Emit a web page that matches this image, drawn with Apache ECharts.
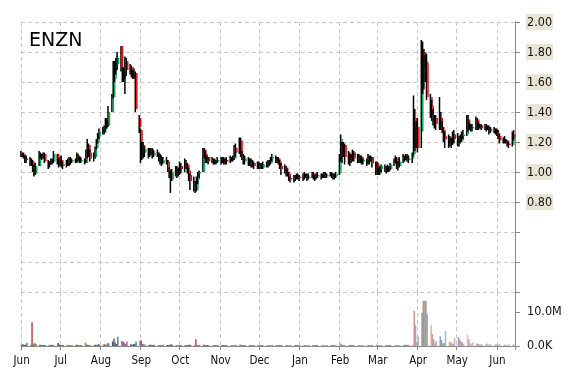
<!DOCTYPE html>
<html><head><meta charset="utf-8">
<script src="https://cdn.jsdelivr.net/npm/echarts@6/dist/echarts.min.js"></script>
<style>html,body{margin:0;padding:0;background:#fff}#c{width:570px;height:370px}</style>
</head><body><div id="c"></div>
<script>
const ticker = 'ENZN';
const startDate = [2015, 5, 1];   // Jun 1 2015
const endDate = [2016, 5, 14];    // Jun 14 2016
const monthNames = ['Jan','Feb','Mar','Apr','May','Jun','Jul','Aug','Sep','Oct','Nov','Dec'];
const priceMin = 0.2, priceMax = 2.0, priceStep = 0.2, priceLabelFrom = 0.8;
const volumeMax = 15.88, volumeStep = 10; // millions
const volumeTickLabels = {0: '0.0K', 10: '10.0M'};

// daily candles per month, trading days in order: [open, close, low, high]
const jun15 = [[1.12,1.11,1.10,1.14],[1.11,1.12,1.10,1.13],[1.12,1.10,1.09,1.13],[1.10,1.08,1.06,1.11],[1.08,1.09,1.06,1.11],[1.09,1.06,1.04,1.10],[1.06,1.07,1.04,1.09],[1.07,1.03,1.00,1.08],[1.03,0.99,0.97,1.05],[0.99,1.04,0.98,1.06],[1.04,1.12,1.04,1.14],[1.12,1.11,1.09,1.13],[1.11,1.10,1.08,1.12],[1.10,1.12,1.09,1.13],[1.12,1.07,1.06,1.13],[1.07,1.05,1.02,1.08],[1.05,1.06,1.03,1.07],[1.06,1.08,1.05,1.09],[1.08,1.07,1.05,1.09],[1.07,1.12,1.06,1.14],[1.12,1.08,1.05,1.12],[1.08,1.06,1.03,1.09]];
const jul15 = [[1.06,1.08,1.04,1.10],[1.08,1.05,1.03,1.11],[1.05,1.04,1.02,1.07],[1.04,1.07,1.03,1.08],[1.07,1.05,1.04,1.09],[1.05,1.08,1.04,1.10],[1.08,1.07,1.05,1.10],[1.07,1.08,1.06,1.09],[1.08,1.07,1.06,1.09],[1.07,1.11,1.06,1.13],[1.11,1.09,1.07,1.12],[1.09,1.07,1.06,1.10],[1.07,1.08,1.06,1.10],[1.08,1.06,1.05,1.09],[1.06,1.10,1.06,1.15],[1.10,1.18,1.09,1.22],[1.18,1.13,1.10,1.19],[1.13,1.09,1.07,1.15],[1.09,1.10,1.07,1.13],[1.10,1.16,1.09,1.17],[1.16,1.20,1.15,1.22],[1.20,1.24,1.19,1.26],[1.24,1.27,1.22,1.29]];
const aug15 = [[1.28,1.26,1.25,1.30],[1.26,1.29,1.25,1.31],[1.29,1.33,1.27,1.36],[1.33,1.31,1.29,1.36],[1.31,1.40,1.30,1.44],[1.40,1.50,1.40,1.52],[1.50,1.62,1.49,1.74],[1.62,1.70,1.60,1.74],[1.70,1.72,1.65,1.76],[1.72,1.76,1.68,1.80],[1.84,1.69,1.67,1.84],[1.69,1.62,1.60,1.70],[1.62,1.66,1.60,1.70],[1.66,1.74,1.52,1.77],[1.74,1.68,1.64,1.76],[1.68,1.70,1.65,1.72],[1.70,1.66,1.63,1.71],[1.66,1.64,1.62,1.68],[1.64,1.66,1.62,1.69],[1.66,1.42,1.40,1.67],[1.36,1.30,1.26,1.38]];
const sep15 = [[1.28,1.10,1.06,1.29],[1.10,1.18,1.08,1.20],[1.18,1.13,1.09,1.20],[1.13,1.15,1.10,1.17],[1.15,1.12,1.09,1.16],[1.12,1.13,1.10,1.16],[1.13,1.14,1.11,1.16],[1.14,1.11,1.09,1.16],[1.11,1.13,1.10,1.15],[1.13,1.12,1.10,1.15],[1.12,1.09,1.07,1.13],[1.09,1.10,1.05,1.12],[1.10,1.06,1.04,1.11],[1.06,1.08,1.05,1.10],[1.08,1.07,1.05,1.10],[1.07,1.02,1.00,1.08],[1.02,0.99,0.96,1.03],[0.99,0.95,0.86,1.01],[0.95,1.00,0.94,1.02],[1.00,1.02,0.97,1.04],[1.02,0.99,0.96,1.04],[0.99,1.01,0.97,1.03]];
const oct15 = [[1.01,1.04,0.98,1.07],[1.04,1.02,0.99,1.06],[1.02,1.06,1.00,1.09],[1.06,1.05,1.02,1.08],[1.05,1.01,0.99,1.06],[1.01,0.98,0.94,1.03],[0.98,0.94,0.88,0.99],[0.94,0.92,0.87,0.97],[0.92,0.88,0.86,0.94],[0.88,0.95,0.87,0.97],[0.95,0.99,0.92,1.00],[0.99,1.00,0.96,1.01],[1.00,1.15,1.00,1.16],[1.15,1.12,1.09,1.16],[1.12,1.08,1.06,1.14],[1.08,1.10,1.06,1.11],[1.10,1.07,1.05,1.10],[1.07,1.08,1.06,1.10],[1.08,1.07,1.05,1.09],[1.07,1.06,1.05,1.09],[1.06,1.07,1.05,1.08],[1.07,1.08,1.06,1.10]];
const nov15 = [[1.08,1.07,1.05,1.10],[1.07,1.09,1.06,1.10],[1.09,1.06,1.05,1.10],[1.06,1.08,1.05,1.09],[1.08,1.07,1.05,1.10],[1.07,1.09,1.06,1.11],[1.09,1.08,1.07,1.10],[1.08,1.09,1.07,1.11],[1.09,1.16,1.08,1.18],[1.16,1.13,1.10,1.19],[1.13,1.21,1.12,1.23],[1.21,1.12,1.10,1.23],[1.12,1.10,1.08,1.14],[1.10,1.07,1.05,1.12],[1.07,1.09,1.05,1.11],[1.09,1.06,1.04,1.10],[1.06,1.08,1.04,1.09],[1.08,1.05,1.03,1.09],[1.05,1.06,1.03,1.08],[1.06,1.04,1.02,1.07],[1.04,1.05,1.02,1.07]];
const dec15 = [[1.05,1.04,1.02,1.07],[1.04,1.05,1.02,1.06],[1.05,1.03,1.02,1.06],[1.03,1.05,1.02,1.07],[1.05,1.04,1.03,1.07],[1.04,1.07,1.03,1.08],[1.07,1.06,1.04,1.08],[1.06,1.09,1.05,1.10],[1.09,1.10,1.07,1.12],[1.10,1.08,1.06,1.11],[1.08,1.09,1.06,1.10],[1.09,1.07,1.05,1.10],[1.07,1.04,1.02,1.08],[1.04,1.02,0.98,1.06],[1.02,1.03,0.99,1.05],[1.03,1.00,0.97,1.04],[1.00,0.99,0.97,1.02],[0.99,0.96,0.94,1.00],[0.96,0.95,0.93,0.97],[0.95,0.97,0.93,0.98],[0.97,0.96,0.94,0.98],[0.96,0.98,0.95,0.99],[0.98,0.97,0.95,0.99]];
const jan16 = [[0.97,0.96,0.94,0.98],[0.96,0.98,0.94,0.99],[0.98,0.97,0.95,1.00],[0.97,0.98,0.96,0.99],[0.98,0.96,0.94,0.99],[0.96,0.97,0.95,0.99],[0.97,0.99,0.96,1.00],[0.99,0.97,0.95,1.00],[0.97,0.96,0.94,0.98],[0.96,0.97,0.95,0.99],[0.97,0.98,0.96,1.00],[0.98,0.97,0.95,0.99],[0.97,0.98,0.96,0.99],[0.98,0.99,0.96,1.00],[0.99,0.97,0.96,1.00],[0.97,0.98,0.96,0.99],[0.98,0.99,0.97,1.00],[0.99,0.98,0.96,1.00],[0.98,0.96,0.95,0.99],[0.96,0.97,0.95,0.99],[0.97,0.99,0.96,1.00]];
const feb16 = [[0.99,1.10,0.98,1.12],[1.10,1.22,1.07,1.25],[1.18,1.13,1.06,1.20],[1.13,1.18,1.10,1.20],[1.18,1.10,1.05,1.19],[1.10,1.12,1.05,1.14],[1.12,1.08,1.04,1.13],[1.08,1.10,1.06,1.12],[1.10,1.13,1.07,1.15],[1.13,1.09,1.07,1.14],[1.09,1.11,1.06,1.12],[1.11,1.08,1.06,1.12],[1.08,1.10,1.06,1.11],[1.10,1.07,1.05,1.11],[1.07,1.08,1.05,1.09],[1.08,1.06,1.04,1.09],[1.06,1.09,1.05,1.12],[1.09,1.08,1.05,1.11],[1.08,1.10,1.07,1.11],[1.10,1.06,1.03,1.10],[1.06,1.00,0.98,1.07]];
const mar16 = [[1.06,1.01,0.98,1.07],[1.01,0.99,0.98,1.03],[0.99,1.02,0.98,1.04],[1.02,1.04,1.00,1.05],[1.04,1.02,1.00,1.05],[1.02,1.01,0.99,1.04],[1.01,1.03,1.00,1.05],[1.03,1.02,1.00,1.04],[1.02,1.05,1.01,1.06],[1.05,1.07,1.04,1.09],[1.07,1.09,1.06,1.11],[1.09,1.06,1.02,1.10],[1.06,1.04,1.01,1.07],[1.04,1.07,1.03,1.10],[1.07,1.10,1.06,1.12],[1.10,1.09,1.07,1.11],[1.09,1.11,1.08,1.12],[1.11,1.08,1.07,1.12],[1.08,1.09,1.06,1.11],[1.09,1.12,1.06,1.13],[1.12,1.30,1.11,1.51],[1.36,1.30,1.14,1.42],[1.30,1.28,1.16,1.34]];
const apr16 = [[1.30,1.16,1.13,1.36],[1.27,1.70,1.16,1.88],[1.70,1.80,1.52,1.87],[1.80,1.72,1.55,1.82],[1.72,1.74,1.60,1.78],[1.73,1.50,1.48,1.79],[1.50,1.44,1.36,1.52],[1.44,1.38,1.34,1.48],[1.38,1.34,1.31,1.42],[1.34,1.36,1.29,1.38],[1.36,1.32,1.28,1.38],[1.32,1.36,1.28,1.50],[1.36,1.30,1.28,1.40],[1.30,1.28,1.26,1.34],[1.28,1.24,1.20,1.30],[1.24,1.22,1.16,1.27],[1.22,1.19,1.16,1.25],[1.19,1.21,1.17,1.24],[1.21,1.20,1.16,1.23],[1.20,1.25,1.18,1.27],[1.25,1.22,1.19,1.28]];
const may16 = [[1.22,1.20,1.17,1.26],[1.20,1.23,1.17,1.24],[1.23,1.21,1.19,1.25],[1.21,1.24,1.20,1.27],[1.24,1.25,1.22,1.28],[1.25,1.35,1.24,1.38],[1.35,1.31,1.27,1.38],[1.31,1.30,1.28,1.33],[1.30,1.29,1.27,1.32],[1.29,1.30,1.27,1.32],[1.30,1.35,1.28,1.37],[1.35,1.31,1.28,1.36],[1.31,1.30,1.28,1.33],[1.30,1.31,1.29,1.32],[1.31,1.29,1.28,1.32],[1.29,1.31,1.28,1.32],[1.31,1.29,1.27,1.32],[1.29,1.30,1.28,1.31],[1.30,1.27,1.25,1.31],[1.27,1.29,1.26,1.30],[1.29,1.27,1.26,1.30],[1.27,1.28,1.25,1.29]];
const jun16 = [[1.28,1.26,1.24,1.29],[1.26,1.24,1.22,1.28],[1.24,1.21,1.19,1.25],[1.21,1.22,1.19,1.23],[1.22,1.20,1.19,1.24],[1.20,1.21,1.19,1.22],[1.21,1.19,1.17,1.21],[1.19,1.18,1.16,1.20],[1.18,1.25,1.17,1.27],[1.25,1.23,1.21,1.28]];

// daily volume per month, millions of shares
const volJun15 = [0.4,0.5,0.3,0.4,0.9,0.4,7.0,0.5,0.9,0.6,0.4,0.3,0.2,0.3,0.3,0.2,0.3,0.4,0.3,0.2,0.9,0.4];
const volJul15 = [0.3,0.2,0.3,0.4,0.2,0.3,0.3,0.2,0.4,0.3,0.2,0.3,0.2,1.0,0.4,0.4,0.3,0.2,0.3,0.4,0.3,0.5,0.4];
const volAug15 = [0.5,0.5,0.4,0.8,0.8,1.3,2.2,1.0,0.6,2.7,1.5,1.3,1.0,0.6,1.3,0.5,0.4,0.6,0.5,1.3,1.6];
const volSep15 = [1.6,0.6,0.5,0.4,0.3,0.4,0.3,0.3,0.4,0.3,0.2,0.3,0.3,0.4,0.3,0.3,0.4,0.5,0.3,0.3,0.2,0.3];
const volOct15 = [0.3,0.3,0.3,0.2,0.3,0.4,0.3,0.3,2.0,0.4,0.3,0.3,0.4,0.3,0.2,0.3,0.2,0.3,0.2,0.3,0.2,0.3];
const volNov15 = [0.2,0.3,0.2,0.3,0.2,0.3,0.2,0.2,0.3,0.3,0.4,0.3,0.2,0.3,0.2,0.2,0.3,0.2,0.2,0.3,0.2];
const volDec15 = [0.2,0.3,0.2,0.2,0.3,0.2,0.3,0.2,0.3,0.2,0.2,0.3,0.2,0.3,0.2,0.3,0.2,0.2,0.3,0.2,0.2,0.3,0.2];
const volJan16 = [0.2,0.2,0.3,0.2,0.2,0.3,0.2,0.2,0.3,0.2,0.2,0.2,0.3,0.2,0.2,0.3,0.2,0.2,0.3,0.2,0.2];
const volFeb16 = [0.8,0.5,0.3,0.3,0.2,0.3,0.2,0.3,0.2,0.2,0.3,0.2,0.2,0.3,0.2,0.2,0.3,0.2,0.2,0.3,0.4];
const volMar16 = [0.3,0.2,0.3,0.2,0.2,0.3,0.2,0.3,0.3,0.2,0.3,0.2,0.3,0.2,0.3,0.3,0.4,0.3,0.3,0.4,10.3,6.2,1.0];
const volApr16 = [2.7,9.8,13.3,13.3,13.3,9.4,6.2,3.5,2.0,0.9,1.5,2.9,1.8,0.8,0.9,4.4,1.3,1.1,0.8,0.6,2.4];
const volMay16 = [2.7,2.0,1.3,1.1,0.6,3.4,2.0,0.8,0.6,1.0,0.8,0.6,0.5,0.4,0.6,0.5,0.7,0.5,0.4,0.6,0.4,0.5];
const volJun16 = [0.5,0.4,0.6,0.4,0.5,0.3,0.4,0.6,0.5,0.4];

const candleMonths = [jun15,jul15,aug15,sep15,oct15,nov15,dec15,jan16,feb16,mar16,apr16,may16,jun16];
const volumeMonths = [volJun15,volJul15,volAug15,volSep15,volOct15,volNov15,volDec15,volJan16,volFeb16,volMar16,volApr16,volMay16,volJun16];

// ---- build calendar categories, place trading-day values on weekdays ----
const candles = [].concat(...candleMonths);
const volumes = [].concat(...volumeMonths);
const days = [];
const candleData = [];
const volumeData = [];
let t = Date.UTC(startDate[0], startDate[1], startDate[2]);
const tEnd = Date.UTC(endDate[0], endDate[1], endDate[2]);
let k = 0;
while (t <= tEnd) {
  const d = new Date(t);
  const key = d.getUTCFullYear() + '-' + String(d.getUTCMonth() + 1).padStart(2, '0') + '-' + String(d.getUTCDate()).padStart(2, '0');
  const idx = days.length;
  days.push(key);
  const wd = d.getUTCDay();
  if (wd !== 0 && wd !== 6 && k < candles.length) {
    const c = candles[k];
    candleData.push([idx, c[0], c[1], c[2], c[3]]);
    volumeData.push([idx, volumes[k], k]);
    k++;
  }
  t += 86400000;
}
const isMonthStart = (i, v) => typeof v === 'string' ? v.slice(8) === '01' : days[i].slice(8) === '01';

const volPalette = ['#3b4e87','#8b3a3a','#6b7b2e','#5b3b8b','#2a8fa8','#d07830','#c04040','#4a7ab0','#7a9a40','#a05a9a'];
function hexA(hex, a) {
  const n = parseInt(hex.slice(1), 16);
  return 'rgba(' + (n >> 16) + ',' + ((n >> 8) & 255) + ',' + (n & 255) + ',' + a.toFixed(2) + ')';
}

const gridColor = '#c8c8c8';
const axisColor = '#8a8a8a';
const font = 'DejaVu Sans Condensed, DejaVu Sans, sans-serif';

const chart = echarts.init(document.getElementById('c'), null, {renderer: 'canvas'});
chart.setOption({
  animation: false,
  backgroundColor: '#ffffff',
  title: {
    text: ticker, left: 24, top: 27,
    textStyle: {fontFamily: 'DejaVu Sans', fontSize: 19, fontWeight: 'normal', color: '#000'}
  },
  grid: [
    {left: 21, right: 55, top: 22, height: 270},
    {left: 21, right: 55, top: 292, height: 54}
  ],
  xAxis: [
    {
      type: 'category', gridIndex: 0, data: days, boundaryGap: true,
      axisLine: {show: false}, axisTick: {show: false}, axisLabel: {show: false},
      splitLine: {show: true, interval: isMonthStart, lineStyle: {color: gridColor, type: [4, 3], width: 1}}
    },
    {
      type: 'category', gridIndex: 1, data: days, boundaryGap: true,
      axisLine: {show: true, lineStyle: {color: axisColor}},
      axisTick: {show: true, interval: isMonthStart, length: 4, lineStyle: {color: axisColor}},
      axisLabel: {
        show: true, interval: isMonthStart, margin: 9, color: '#111', fontSize: 11.5, fontFamily: font,
        formatter: v => monthNames[parseInt(v.slice(5, 7), 10) - 1]
      },
      splitLine: {show: true, interval: isMonthStart, lineStyle: {color: gridColor, type: [4, 3], width: 1}}
    }
  ],
  yAxis: [
    {
      type: 'value', gridIndex: 0, position: 'right', min: priceMin, max: priceMax, interval: priceStep,
      axisLine: {show: true, lineStyle: {color: axisColor}},
      axisTick: {show: true, length: 5, lineStyle: {color: axisColor}},
      axisLabel: {
        show: true, margin: 11, color: '#111', fontSize: 12.5, fontFamily: font,
        formatter: v => (v >= priceLabelFrom - 1e-9 ? '{p|' + v.toFixed(2) + '}' : ''),
        rich: {p: {backgroundColor: '#E9E5D6', padding: [2, 1, 1, 1], fontSize: 12.5, fontFamily: font, color: '#111'}}
      },
      splitLine: {show: true, lineStyle: {color: gridColor, type: [4, 3], width: 1}}
    },
    {
      type: 'value', gridIndex: 1, position: 'right', min: 0, max: volumeMax, interval: volumeStep,
      axisLine: {show: true, lineStyle: {color: axisColor}},
      axisTick: {show: true, length: 5, lineStyle: {color: axisColor}},
      axisLabel: {
        show: true, margin: 12, color: '#111', fontSize: 12.5, fontFamily: font,
        formatter: v => (volumeTickLabels[v] !== undefined ? volumeTickLabels[v] : '')
      },
      splitLine: {show: false}
    }
  ],
  series: [
    {
      type: 'custom', name: 'price', xAxisIndex: 0, yAxisIndex: 0,
      data: candleData, encode: {x: 0, y: [1, 2, 3, 4]},
      renderItem: function (params, api) {
        const x = api.value(0);
        const o = api.value(1), c = api.value(2), l = api.value(3), h = api.value(4);
        const pO = api.coord([x, o]), pC = api.coord([x, c]), pL = api.coord([x, l]), pH = api.coord([x, h]);
        const xc = pO[0];
        const top = Math.min(pO[1], pC[1]), bot = Math.max(pO[1], pC[1]);
        const up = c >= o;
        return {
          type: 'group',
          children: [
            {type: 'rect', shape: {x: xc - 1.5, y: pH[1], width: 1.5, height: Math.max(1, pL[1] - pH[1])}, style: {fill: '#000'}},
            {type: 'rect', shape: {x: xc, y: top, width: 1.5, height: Math.max(1.5, bot - top)}, style: {fill: up ? '#00b050' : '#ff0000'}}
          ]
        };
      }
    },
    {
      type: 'bar', name: 'volume', xAxisIndex: 1, yAxisIndex: 1,
      data: volumeData, barWidth: 1.5, encode: {x: 0, y: 1},
      itemStyle: {
        color: function (p) {
          const i = p.data[2];
          const f = i / volumes.length;
          return hexA(volPalette[i % volPalette.length], 1 - 0.65 * f * f);
        }
      }
    }
  ]
});
</script>
</body></html>
